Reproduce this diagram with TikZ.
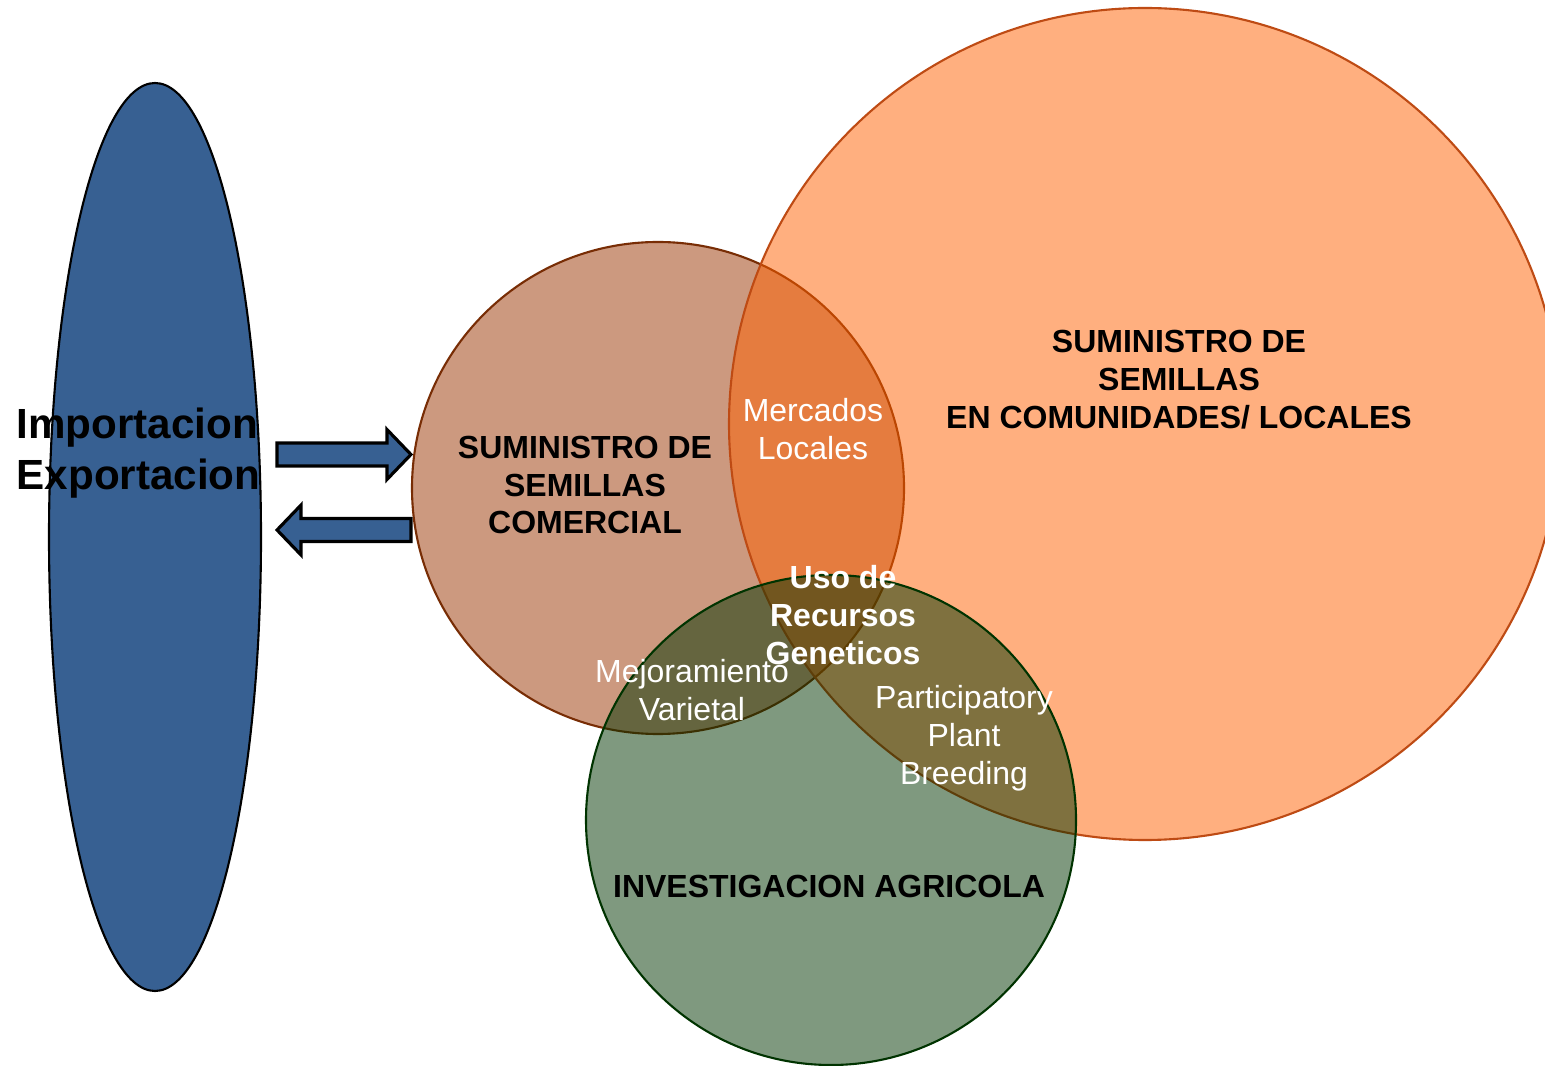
\documentclass[tikz,border=0pt]{standalone}
\usepackage{fontspec}
\setmainfont{Liberation Sans}
\usetikzlibrary{shapes.geometric,calc}

\definecolor{blau}{RGB}{55,96,146}
\definecolor{braun}{RGB}{153,51,0}
\definecolor{braunrand}{RGB}{120,45,5}
\definecolor{orange}{RGB}{255,96,0}
\definecolor{orangerand}{RGB}{190,75,20}
\definecolor{gruen}{RGB}{0,51,0}

\begin{document}
\begin{tikzpicture}[
  kreis/.style={circle,inner sep=0pt,line width=0.6pt,fill opacity=0.5},
  klein/.style={align=center,inner sep=0pt,font=\fontsize{9.1}{10.8}\selectfont},
  fett/.style={klein,font=\fontsize{9.1}{10.8}\selectfont\bfseries},
  block/.style={to path={
    let \p1=(\tikztostart), \p2=(\tikztotarget), \n1={sign(\x2-\x1)} in
    (\x1,\y1+0.115cm) -- (\x2-\n1*0.24cm,\y1+0.115cm) -- (\x2-\n1*0.24cm,\y1+0.25cm)
    -- (\x2,\y2) -- (\x2-\n1*0.24cm,\y1-0.25cm) -- (\x2-\n1*0.24cm,\y1-0.115cm)
    -- (\x1,\y1-0.115cm) -- cycle}},
  pfeil/.style={fill=blau,draw=black,line width=0.9pt,line join=miter}]
\useasboundingbox (0,0) rectangle (15.45,10.65);

\node (ie) at (1.55,5.28) [ellipse,minimum width=2.12cm,minimum height=9.08cm,
  inner sep=0pt,fill=blau,draw=black,line width=0.6pt] {};

\node (com) at (6.58,5.77) [kreis,minimum size=4.92cm,fill=braun,draw=braunrand] {};
\node (loc) at (11.45,6.41) [kreis,minimum size=8.32cm,fill=orange,draw=orangerand] {};
\node (inv) at (8.31,2.45) [kreis,minimum size=4.90cm,fill=gruen,draw=gruen] {};

% Pfeile
\draw[pfeil] ($(ie.east)+(0.15,0.825)$) to[block] ($(com.west)+(0,0.335)$);
\draw[pfeil] ($(com.west)+(0,-0.42)$) to[block] ($(ie.east)+(0.15,0.07)$);

\node (t-imp) at (0.16,6.12) [anchor=west,align=left,inner sep=0pt,
  font=\fontsize{12}{14.5}\selectfont\bfseries] {Importacion\\Exportacion};

\node (t-com) at (5.85,5.80) [fett] {SUMINISTRO DE\\SEMILLAS\\COMERCIAL};
\node (t-loc) at (11.79,6.85) [fett] {SUMINISTRO DE\\SEMILLAS\\EN COMUNIDADES/ LOCALES};
\node (t-inv) at (8.29,1.79) [fett] {INVESTIGACION AGRICOLA};

\node (t-mer) at (8.13,6.36) [klein,text=white] {Mercados\\Locales};
\node (t-uso) at (8.43,4.50) [fett,text=white] {Uso de\\Recursos\\Geneticos};
\node (t-mej) at (6.92,3.75) [klein,text=white] {Mejoramiento\\Varietal};
\node (t-ppb) at (9.64,3.265) [klein,text=white] {Participatory\\Plant\\Breeding};

\end{tikzpicture}
\end{document}
